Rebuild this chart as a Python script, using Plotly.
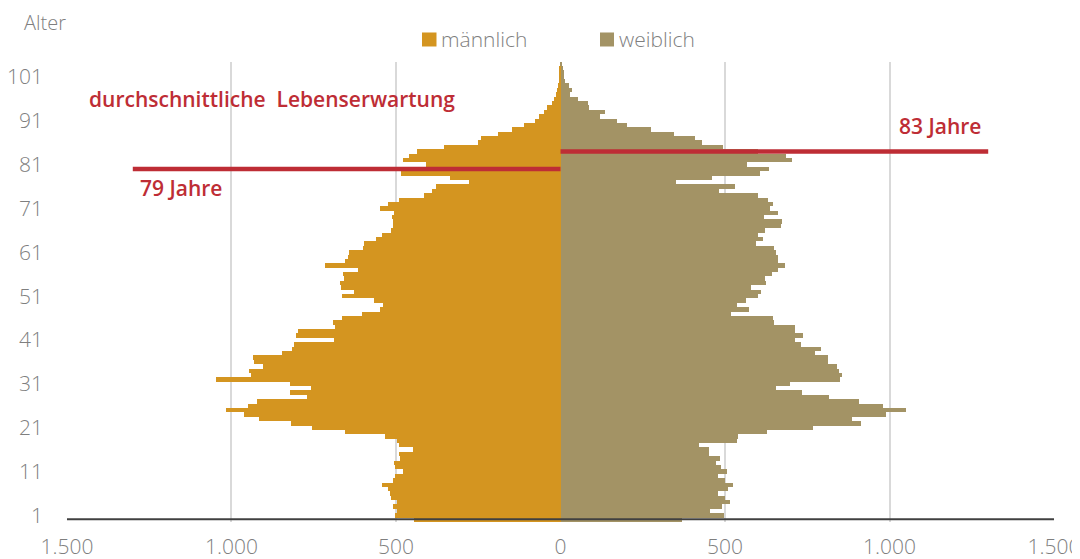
import plotly.graph_objs as go

alter = list(range(0, 105))

maennlich = [445, 502, 498, 510, 496, 515, 519, 525, 544, 508,
             504, 480, 502, 506, 488, 492, 447, 492, 496, 534,
             655, 754, 818, 915, 963, 1018, 949, 924, 772, 823,
             758, 823, 1048, 940, 948, 904, 933, 934, 846, 815,
             810, 688, 805, 799, 685, 691, 664, 602, 548, 539,
             568, 663, 628, 668, 671, 658, 661, 617, 716, 656,
             645, 642, 600, 598, 560, 544, 515, 510, 508, 512,
             506, 548, 523, 492, 416, 390, 377, 279, 336, 484,
             484, 409, 478, 461, 437, 355, 250, 242, 191, 147,
             111, 78, 65, 51, 41, 26, 20, 15, 12, 9,
             6, 4, 3, 2, 1]

weiblich = [369, 498, 455, 490, 516, 500, 479, 510, 524, 500,
            479, 505, 488, 474, 484, 450, 450, 420, 537, 540,
            627, 767, 913, 887, 989, 1049, 981, 908, 817, 733,
            656, 699, 850, 855, 845, 840, 813, 813, 774, 793,
            732, 714, 737, 714, 712, 650, 645, 519, 573, 535,
            565, 600, 608, 578, 625, 622, 643, 660, 681, 662,
            662, 654, 650, 594, 615, 600, 622, 670, 674, 620,
            662, 636, 646, 631, 600, 483, 531, 350, 461, 607,
            633, 566, 705, 686, 600, 494, 431, 409, 346, 274,
            201, 173, 120, 134, 86, 83, 53, 30, 36, 27,
            14, 12, 10, 8, 6]

# durchschnittliche Lebenserwartung (Linienlage im Diagramm)
linie_m_y = 80
linie_w_y = 84
linie_laenge = 1300

y_ticks = list(range(1, 102, 10))
y_ticktext = [str(v) for v in y_ticks]
x_ticks = [-1500, -1000, -500, 0, 500, 1000, 1500]
x_ticktext = ['1.500', '1.000', '500', '0', '500', '1.000', '1.500']

ORANGE = '#D49520'
TAN = '#A39365'
ROT = '#BE2D35'
GRAU = '#7f7f7f'

# die Seite hat 8px Rand -> Figur 1072x551, Positionen in Seitenpixeln minus 8
OFF = 8
W, H = 1080 - OFF, 559 - OFF
L, R, T, B = 58, 25, 54, 37.2
PW = W - L - R
PH = H - T - B


def px(x):
    return (x - OFF - L) / PW


def py(y):
    return (H - B - (y - OFF)) / PH


fig = go.Figure(
    data=[go.Bar(y=alter, x=[-v for v in maennlich], orientation='h',
                 marker=dict(color=ORANGE, line=dict(width=0)), name='männlich',
                 hoverinfo='none'),
          go.Bar(y=alter, x=weiblich, orientation='h',
                 marker=dict(color=TAN, line=dict(width=0)), name='weiblich',
                 hoverinfo='none'),
          go.Scatter(x=[-linie_laenge, 0], y=[linie_m_y, linie_m_y], mode='lines',
                     line=dict(color=ROT, width=4.5), hoverinfo='none'),
          go.Scatter(x=[0, linie_laenge], y=[linie_w_y, linie_w_y], mode='lines',
                     line=dict(color=ROT, width=4.5), hoverinfo='none')],
    layout=go.Layout(
        width=W, height=H, template='none',
        margin=dict(l=L, r=R, t=T, b=B, pad=0),
        barmode='overlay', bargap=0, showlegend=False,
        plot_bgcolor='white', paper_bgcolor='white',
        font=dict(family='Open Sans', color=GRAU, size=21, weight=300),
        xaxis=dict(range=[-1503, 1503], tickvals=x_ticks, ticktext=x_ticktext,
                   showgrid=True, gridcolor='#d9d9d9', gridwidth=1.5,
                   zeroline=False, showline=False, ticks='',
                   ticklabelstandoff=10, ticklabeloverflow='allow',
                   automargin=False),
        yaxis=dict(range=[-0.5, 104.4], tickvals=y_ticks, ticktext=y_ticktext,
                   showgrid=False, zeroline=False, showline=False, ticks='',
                   ticklabelstandoff=22, automargin=False),
        shapes=[dict(type='line', xref='x', yref='y', x0=-1500, x1=1500, y0=0.15, y1=0.15,
                     line=dict(color='#404040', width=2), layer='above'),
                dict(type='rect', xref='paper', yref='paper', x0=px(422), x1=px(436.5),
                     y0=py(46.5), y1=py(32.5), fillcolor=ORANGE, line=dict(width=0)),
                dict(type='rect', xref='paper', yref='paper', x0=px(600), x1=px(614),
                     y0=py(46.5), y1=py(32.5), fillcolor=TAN, line=dict(width=0))],
        annotations=[
            dict(text='Alter', xref='paper', yref='paper', x=px(22), y=py(22.5),
                 xanchor='left', yanchor='middle', showarrow=False,
                 font=dict(size=20)),
            dict(text='männlich', xref='paper', yref='paper', x=px(439), y=py(39),
                 xanchor='left', yanchor='middle', showarrow=False),
            dict(text='weiblich', xref='paper', yref='paper', x=px(617), y=py(39),
                 xanchor='left', yanchor='middle', showarrow=False),
            dict(text='durchschnittliche  Lebenserwartung', x=-1440, y=95.9,
                 xanchor='left', yanchor='middle', showarrow=False,
                 font=dict(color=ROT, size=21, weight=600)),
            dict(text='79 Jahre', x=-1283, y=75.6, xanchor='left', yanchor='middle',
                 showarrow=False, font=dict(color=ROT, size=21, weight=600)),
            dict(text='83 Jahre', x=1023, y=89.8, xanchor='left', yanchor='middle',
                 showarrow=False, font=dict(color=ROT, size=21, weight=600))]))

fig.write_html("out.html")
